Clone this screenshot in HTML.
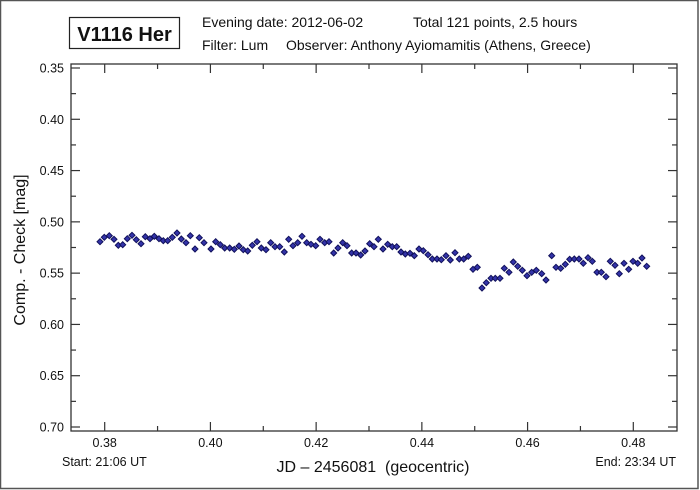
<!DOCTYPE html>
<html><head><meta charset="utf-8"><style>
html,body{margin:0;padding:0;background:#fff}
svg{display:block}
text{font-family:"Liberation Sans",Arial,sans-serif;fill:#111}
</style></head><body>
<svg width="700" height="490" xmlns="http://www.w3.org/2000/svg">
<rect x="0.5" y="0.5" width="697.5" height="488" fill="#fff" stroke="#555" stroke-width="1.5"/>
<rect x="69.5" y="17.5" width="110" height="31" fill="#fff" stroke="#222" stroke-width="1.2"/>
<text x="124.5" y="41" font-size="20" font-weight="bold" text-anchor="middle">V1116 Her</text>
<text x="202" y="27" font-size="14">Evening date: 2012-06-02</text>
<text x="413" y="27" font-size="14">Total 121 points, 2.5 hours</text>
<text x="202" y="50" font-size="14">Filter: Lum</text>
<text x="286" y="50" font-size="14">Observer: Anthony Ayiomamitis (Athens, Greece)</text>
<rect x="71" y="64" width="606" height="367" fill="none" stroke="#333" stroke-width="1.3"/>
<g id="ticks" stroke="#333" stroke-width="1.2"></g>
<g id="labels" font-size="12.5"></g>
<text transform="translate(25,250) rotate(-90)" font-size="16" text-anchor="middle">Comp. - Check [mag]</text>
<text x="373" y="472" font-size="16" text-anchor="middle">JD – 2456081 &#160;(geocentric)</text>
<text x="62" y="466" font-size="12.5">Start: 21:06 UT</text>
<text x="676" y="466" font-size="12.5" text-anchor="end">End: 23:34 UT</text>
<g id="pts" fill="#3333a8" stroke="#10105a" stroke-width="1"></g>
</svg>
<script>
var NS="http://www.w3.org/2000/svg";
function el(t,a,p,txt){var e=document.createElementNS(NS,t);for(var k in a)e.setAttribute(k,a[k]);if(txt)e.textContent=txt;document.getElementById(p).appendChild(e);}
for(var i=0;i<=14;i++){var y=68+i*(427-68)/14;var maj=i%2==0;var L=maj?9:5;
el('line',{x1:71,y1:y,x2:71+L,y2:y},'ticks');el('line',{x1:677,y1:y,x2:677-L,y2:y},'ticks');
if(maj){el('text',{x:64,y:y+4.5,'text-anchor':'end'},'labels',(0.35+i*0.025).toFixed(2));}}
for(var j=0;j<=10;j++){var x=104.7+j*52.86;var maj=j%2==0;var L=maj?9:5;
el('line',{x1:x,y1:431,x2:x,y2:431-L},'ticks');el('line',{x1:x,y1:64,x2:x,y2:64+L},'ticks');
if(maj){el('text',{x:x,y:447,'text-anchor':'middle'},'labels',(0.38+j*0.01).toFixed(2));}}
var P=[[100,241.7],[104.3,237.3],[109.3,235.7],[114,239.3],[118.3,245.3],[122.7,244.7],[127.3,238.7],[132,235.3],[136.3,239.7],[141,243.7],[145.3,236.7],[150,238.7],[154.3,236.3],[159,238.7],[163.3,240.7],[167.7,240.7],[172.3,237.3],[177,233],[181.3,239],[186,242.7],[190.3,235.7],[195,249],[199.3,237.7],[204,242.7],[211,249],[215.7,241.7],[220.3,244.7],[224.7,248],[229.7,248],[234.3,249.3],[239,246],[243.3,249.7],[247.7,251],[252.3,245.3],[257,241.7],[261.3,248],[266,249.7],[270.7,242.7],[275,246.7],[279.7,246.7],[284.3,252],[288.7,239.3],[293,245.7],[297.7,242.7],[302,236.3],[306.7,242.7],[311,244.3],[315.7,245.7],[320,239.3],[324.7,242.7],[329,241.7],[333.7,253],[338,248],[342.7,242.7],[347,245.7],[351.7,253],[356,253],[360.7,255],[365,251],[369.7,243.7],[374,246.7],[378.3,239.3],
[383,249],[387.7,244.3],[392.3,246.7],[396.7,246.7],[401,252],[405.3,254],[410,253.3],[414.3,255.7],[419,249],[423.3,250.7],[428,254.7],[432.3,259],[437,259],[441.3,259.7],[446,255.7],[450.3,260],[455,252.7],[459.3,259],[463.7,259],[468.3,256.3],[473,269.3],[477.3,267.3],[482,288],[486.3,282.7],[491,278.3],[495.3,278.3],[500,278.3],[504.3,268.3],[509,272.3],[513.3,262],[517.7,266.3],[522.3,270.3],[527,275.7],[531.7,272.3],[536.3,270.3],[541.7,273.7],[546,280],[551.7,255.7],[556,267.3],[560.7,268.3],[565.3,264.3],[569.7,259.3],[574.3,259],[579,259],[583.3,263.3],[588,257.7],[592.3,261.3],[597,272.3],[601.3,272.3],[606,276.7],[610.3,261.3],[615,265.3],[619.3,273.7],[624,263.3],[628.7,269.3],[633,261.3],[637.7,263.3],[642,258],[646.7,266.3]];
P.forEach(function(p){var x=p[0],y=p[1],r=3;el('polygon',{points:(x)+','+(y-r)+' '+(x+r)+','+y+' '+x+','+(y+r)+' '+(x-r)+','+y},'pts');});
</script>
</body></html>
